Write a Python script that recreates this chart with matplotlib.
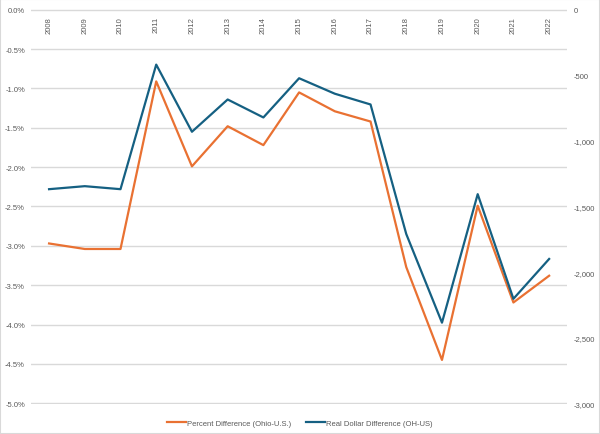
import numpy as np
import matplotlib.pyplot as plt
from matplotlib.patches import Rectangle

###### Data
years = ['2008', '2009', '2010', '2011', '2012', '2013', '2014', '2015',
         '2016', '2017', '2018', '2019', '2020', '2021', '2022']
pctDiff = [-2.97, -3.04, -3.04, -0.91, -1.99, -1.48, -1.72, -1.05,
           -1.29, -1.42, -3.27, -4.45, -2.49, -3.72, -3.38]
dollarDiff = [-1368, -1345, -1368, -418, -930, -684, -821, -522,
              -640, -722, -1710, -2386, -1406, -2204, -1900]

pctTicks = [0.0, -0.5, -1.0, -1.5, -2.0, -2.5, -3.0, -3.5, -4.0, -4.5, -5.0]
dollarTicks = [0, -500, -1000, -1500, -2000, -2500, -3000]

###### Plotting options
plt.rcParams['font.family'] = ['Liberation Sans', 'DejaVu Sans']
orange = '#E97132'
blue = '#156082'
txtColor = '#595959'
gridColor = '#D9D9D9'
fs = 5.5

fig = plt.figure(figsize=(6, 4.35), dpi=100)
ax = fig.add_axes([0.052, 0.069, 0.893, 0.908])
ax2 = ax.twinx()

x = np.arange(len(years))

ax.plot(x, pctDiff, color=orange, linewidth=1.6, label='Percent Difference (Ohio-U.S.)', zorder=3)
ax2.plot(x, dollarDiff, color=blue, linewidth=1.6, label='Real Dollar Difference (OH-US)', zorder=3)

# small margin so the 0% and -5% grid lines are not clipped
ax.set_xlim(-0.5, len(years) - 0.5)
ax.set_ylim(-5.01, 0.01)
ax2.set_ylim(-3006, 6)

ax.set_yticks(pctTicks)
ax.set_yticklabels(['%.1f%%' % v for v in pctTicks])
ax2.set_yticks(dollarTicks)
ax2.set_yticklabels(['{:,}'.format(v) for v in dollarTicks])

for a in (ax, ax2):
	for s in a.spines.values():
		s.set_visible(False)
	a.tick_params(axis='y', length=0, labelsize=fs, labelcolor=txtColor, pad=4.5)
	a.tick_params(axis='x', length=0)
ax.set_xticks([])

ax.grid(axis='y', color=gridColor, linewidth=1.0)
ax.set_axisbelow(True)

# year labels sit just under the top (zero) line
for i, yr in enumerate(years):
	ax.text(i, -0.08, yr, rotation=90, ha='center', va='top', fontsize=fs, color=txtColor)

h1, l1 = ax.get_legend_handles_labels()
h2, l2 = ax2.get_legend_handles_labels()
fig.legend(h1 + h2, l1 + l2, loc='lower center', bbox_to_anchor=(0.5, 0.0), ncol=2,
           frameon=False, fontsize=fs, labelcolor=txtColor, handlelength=2.4,
           handletextpad=0.2, columnspacing=2.0)

fig.patches.append(Rectangle((0, 0), 1, 1, transform=fig.transFigure, fill=False,
                             edgecolor='#D9D9D9', linewidth=1.5))

fig.savefig('out.png', dpi=100)
